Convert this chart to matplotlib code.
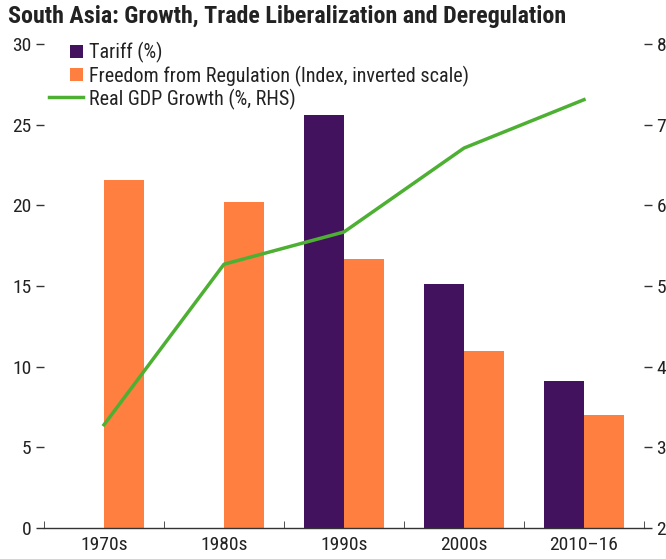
import matplotlib
matplotlib.use("Agg")
import matplotlib.pyplot as plt
import numpy as np
from matplotlib.ticker import FixedLocator
from matplotlib.legend_handler import HandlerBase
from matplotlib.patches import Rectangle, Patch

plt.rcParams['font.family'] = ['Roboto Condensed', 'Archivo Narrow', 'DejaVu Sans']

categories = ["1970s", "1980s", "1990s", "2000s", "2010–16"]
tariff = [np.nan, np.nan, 25.6, 15.1, 9.1]
freedom = [21.6, 20.2, 16.7, 11.0, 7.0]
gdp = [3.28, 5.27, 5.67, 6.71, 7.31]

purple = "#43125F"
orange = "#FF7F41"
green = "#4DB033"


class SquareHandler(HandlerBase):
    def create_artists(self, legend, orig_handle, xdescent, ydescent, width, height, fontsize, trans):
        s = 9.4
        r = Rectangle((width - s - xdescent, (height - s) / 2 - ydescent), s, s,
                      facecolor=orig_handle.get_facecolor(), edgecolor="none", transform=trans)
        return [r]


fig = plt.figure(figsize=(6.66, 5.59), dpi=100)
ax = fig.add_axes([44/666, 1-528/559, 600/666, 484/559])
ax2 = ax.twinx()

x = np.arange(len(categories))
w = 0.335
b1 = ax.bar(x - w/2, tariff, width=w, color=purple, label="Tariff (%)")
b2 = ax.bar(x + w/2, freedom, width=w, color=orange, label="Freedom from Regulation (Index, inverted scale)")
ln, = ax2.plot(x, gdp, color=green, lw=2.5, label="Real GDP Growth (%, RHS)")

ax.set_xlim(-0.5, 4.5)
ax.set_ylim(0, 30)
ax2.set_ylim(2, 8)
ax.set_yticks([0, 5, 10, 15, 20, 25, 30])
ax2.set_yticks([2, 3, 4, 5, 6, 7, 8])
ax.set_xticks(x)
ax.set_xticklabels(categories)
ax.xaxis.set_minor_locator(FixedLocator(np.arange(-0.5, 5.0, 1.0)))

for a in (ax, ax2):
    for s in ("top", "left", "right"):
        a.spines[s].set_visible(False)
ax2.spines["bottom"].set_visible(False)
ax.spines["bottom"].set_color("#333333")
ax.spines["bottom"].set_linewidth(1.0)

ax.tick_params(axis="x", which="major", length=0, labelsize=14, pad=6, labelcolor="#222222")
ax.tick_params(axis="x", which="minor", direction="in", length=5, color="#333333")
ax.tick_params(axis="y", length=6, width=1, color="#333333", labelsize=14, pad=3, labelcolor="#222222")
ax2.tick_params(axis="y", length=6, width=1, color="#333333", labelsize=14, pad=3, labelcolor="#222222")

p1 = Patch(facecolor=purple)
p2 = Patch(facecolor=orange)
leg = ax.legend([p1, p2, ln],
                ["Tariff (%)", "Freedom from Regulation (Index, inverted scale)", "Real GDP Growth (%, RHS)"],
                handler_map={Patch: SquareHandler()},
                loc="upper left", bbox_to_anchor=(-0.005, 1.02),
                frameon=False, fontsize=14.5, handlelength=1.69, handleheight=1.0,
                handletextpad=0.3, labelspacing=0.1, borderaxespad=0.0)
for t in leg.get_texts():
    t.set_color("#222222")

fig.text(8/666, 1-17/559, "South Asia: Growth, Trade Liberalization and Deregulation",
         fontsize=17.3, fontweight="bold", va="center", ha="left", color="#222222")

fig.savefig("out.png", dpi=100)
